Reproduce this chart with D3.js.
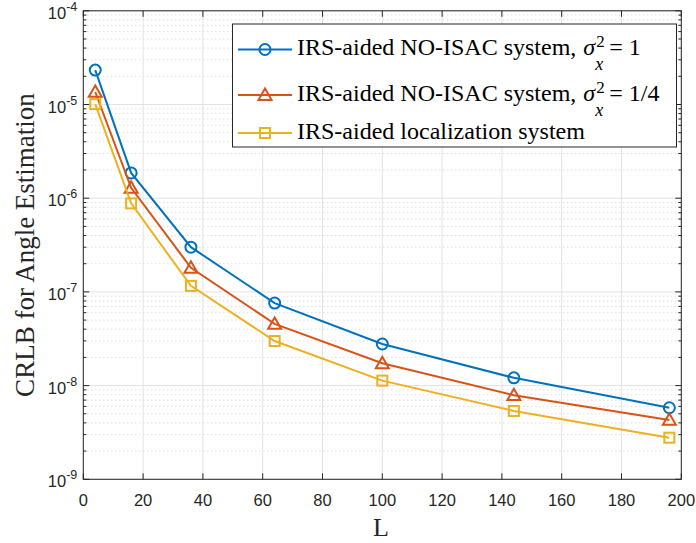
<!DOCTYPE html>
<html><head><meta charset="utf-8">
<script src="https://cdn.jsdelivr.net/npm/d3@7"></script>
<style>body{margin:0;background:#fff}svg{display:block}</style>
</head><body><svg id="c" width="696" height="543"></svg>
<script>
const Lvals = [4, 16, 36, 64, 100, 144, 196];
const noIsac1 = [2.33e-5, 1.86e-6, 3.0e-7, 7.6e-8, 2.78e-8, 1.21e-8, 5.8e-9];
const noIsacQ = [1.36e-5, 1.29e-6, 1.81e-7, 4.55e-8, 1.73e-8, 7.9e-9, 4.3e-9];
const localiz = [1.01e-5, 8.8e-7, 1.16e-7, 2.99e-8, 1.13e-8, 5.36e-9, 2.78e-9];
const xTicks = [0, 20, 40, 60, 80, 100, 120, 140, 160, 180, 200];
const yExps = [-9, -8, -7, -6, -5, -4];
const series = [
  {vals: noIsac1, color: "#0072BD", marker: "circle", pre: "IRS-aided NO-ISAC system,", rhs: "= 1", sigma: true},
  {vals: noIsacQ, color: "#D95319", marker: "triangle", pre: "IRS-aided NO-ISAC system,", rhs: "= 1/4", sigma: true},
  {vals: localiz, color: "#EDB120", marker: "square", pre: "IRS-aided localization system", sigma: false}
];

const SERIF = "Liberation Serif, Times New Roman, serif";
const SANS = "Liberation Sans, Arial, Helvetica, sans-serif";
const svg = d3.select("#c");
const m = {l: 83.3, r: 681.3, t: 10.8, b: 479.3};
const x = d3.scaleLinear().domain([0, 200]).range([m.l, m.r]);
const y = d3.scaleLog().domain([1e-9, 1e-4]).range([m.b, m.t]);

// grid
const g = svg.append("g");
yExps.slice(0, -1).forEach(e => {
  for (let k = 2; k <= 9; k++) {
    const v = k * Math.pow(10, e);
    g.append("line").attr("x1", m.l).attr("x2", m.r).attr("y1", y(v)).attr("y2", y(v))
      .attr("stroke", "#cfcfcf").attr("stroke-width", 1).attr("stroke-dasharray", "1,3");
  }
});
xTicks.forEach(t => {
  g.append("line").attr("x1", x(t)).attr("x2", x(t)).attr("y1", m.t).attr("y2", m.b)
    .attr("stroke", "#e3e3e3").attr("stroke-width", 1);
});
yExps.forEach(e => {
  const v = Math.pow(10, e);
  g.append("line").attr("x1", m.l).attr("x2", m.r).attr("y1", y(v)).attr("y2", y(v))
    .attr("stroke", "#e3e3e3").attr("stroke-width", 1);
});

// axes box
const ax = svg.append("g");
ax.append("rect").attr("x", m.l).attr("y", m.t).attr("width", m.r - m.l).attr("height", m.b - m.t)
  .attr("fill", "none").attr("stroke", "#262626").attr("stroke-width", 1);

xTicks.forEach(t => {
  ax.append("line").attr("x1", x(t)).attr("x2", x(t)).attr("y1", m.b).attr("y2", m.b - 6).attr("stroke", "#262626");
  ax.append("line").attr("x1", x(t)).attr("x2", x(t)).attr("y1", m.t).attr("y2", m.t + 6).attr("stroke", "#262626");
  ax.append("text").attr("x", x(t)).attr("y", 506).attr("text-anchor", "middle")
    .attr("font-family", SANS).attr("font-size", 16.5).attr("fill", "#262626").text(t);
});
yExps.forEach(e => {
  const v = Math.pow(10, e);
  ax.append("line").attr("x1", m.l).attr("x2", m.l + 6).attr("y1", y(v)).attr("y2", y(v)).attr("stroke", "#262626");
  ax.append("line").attr("x1", m.r).attr("x2", m.r - 6).attr("y1", y(v)).attr("y2", y(v)).attr("stroke", "#262626");
  const tx = ax.append("text").attr("x", m.l - 6).attr("y", y(v) + 8).attr("text-anchor", "end")
    .attr("font-family", SANS).attr("font-size", 16.5).attr("fill", "#262626");
  tx.append("tspan").text("10");
  tx.append("tspan").attr("dy", -8).attr("font-size", 12.5).text(e);
});
yExps.slice(0, -1).forEach(e => {
  for (let k = 2; k <= 9; k++) {
    const v = k * Math.pow(10, e);
    ax.append("line").attr("x1", m.l).attr("x2", m.l + 3).attr("y1", y(v)).attr("y2", y(v)).attr("stroke", "#262626");
    ax.append("line").attr("x1", m.r).attr("x2", m.r - 3).attr("y1", y(v)).attr("y2", y(v)).attr("stroke", "#262626");
  }
});

// axis labels
svg.append("text").attr("x", 381).attr("y", 536).attr("text-anchor", "middle")
  .attr("font-family", SERIF).attr("font-size", 26).attr("fill", "#262626").text("L");
svg.append("text").attr("transform", "translate(33.5,245) rotate(-90)").attr("text-anchor", "middle")
  .attr("font-family", SERIF).attr("font-size", 27).attr("fill", "#262626").text("CRLB for Angle Estimation");

function drawMarker(sel, type, cx, cy, color) {
  if (type === "circle") {
    sel.append("circle").attr("cx", cx).attr("cy", cy).attr("r", 5.5).attr("fill", "none").attr("stroke", color).attr("stroke-width", 2);
  } else if (type === "triangle") {
    const s = 6.5;
    sel.append("path").attr("d", `M${cx},${cy - s}L${cx + s},${cy + s * 0.75}L${cx - s},${cy + s * 0.75}Z`)
      .attr("fill", "none").attr("stroke", color).attr("stroke-width", 2);
  } else {
    const s = 5;
    sel.append("rect").attr("x", cx - s).attr("y", cy - s).attr("width", 2 * s).attr("height", 2 * s)
      .attr("fill", "none").attr("stroke", color).attr("stroke-width", 2);
  }
}

const line = d3.line().x(d => x(d[0])).y(d => y(d[1]));
series.forEach(s => {
  const pts = Lvals.map((l, i) => [l, s.vals[i]]);
  const sg = svg.append("g");
  sg.append("path").attr("d", line(pts)).attr("fill", "none").attr("stroke", s.color).attr("stroke-width", 2);
  pts.forEach(p => drawMarker(sg, s.marker, x(p[0]), y(p[1]), s.color));
});

// legend
const lg = svg.append("g");
lg.append("rect").attr("x", 232.5).attr("y", 24).attr("width", 444).attr("height", 123)
  .attr("fill", "#fff").attr("stroke", "#262626").attr("stroke-width", 1);
const rowsY = [49.5, 95, 133];
series.forEach((s, i) => {
  const ry = rowsY[i];
  lg.append("line").attr("x1", 238).attr("x2", 292).attr("y1", ry).attr("y2", ry).attr("stroke", s.color).attr("stroke-width", 2);
  drawMarker(lg, s.marker, 265, ry, s.color);
  const t = lg.append("text").attr("x", 297).attr("y", ry + 5.7)
    .attr("font-family", SERIF).attr("font-size", 24).attr("fill", "#000").text(s.pre);
  if (s.sigma) {
    const sx = 297 + t.node().getComputedTextLength() + 7;
    lg.append("text").attr("x", sx).attr("y", ry + 5.7).attr("font-family", SERIF)
      .attr("font-size", 24).attr("font-style", "italic").attr("fill", "#000").text("σ");
    lg.append("text").attr("x", sx + 13).attr("y", ry - 2.5).attr("font-family", SERIF)
      .attr("font-size", 17).attr("fill", "#000").text("2");
    lg.append("text").attr("x", sx + 12).attr("y", ry + 20.5).attr("font-family", SERIF)
      .attr("font-size", 18).attr("font-style", "italic").attr("fill", "#000").text("x");
    lg.append("text").attr("x", sx + 26).attr("y", ry + 5.7).attr("font-family", SERIF)
      .attr("font-size", 24).attr("fill", "#000").attr("xml:space", "preserve").text(s.rhs.replace(" ", "\u00a0"));
  }
});
</script></body></html>
